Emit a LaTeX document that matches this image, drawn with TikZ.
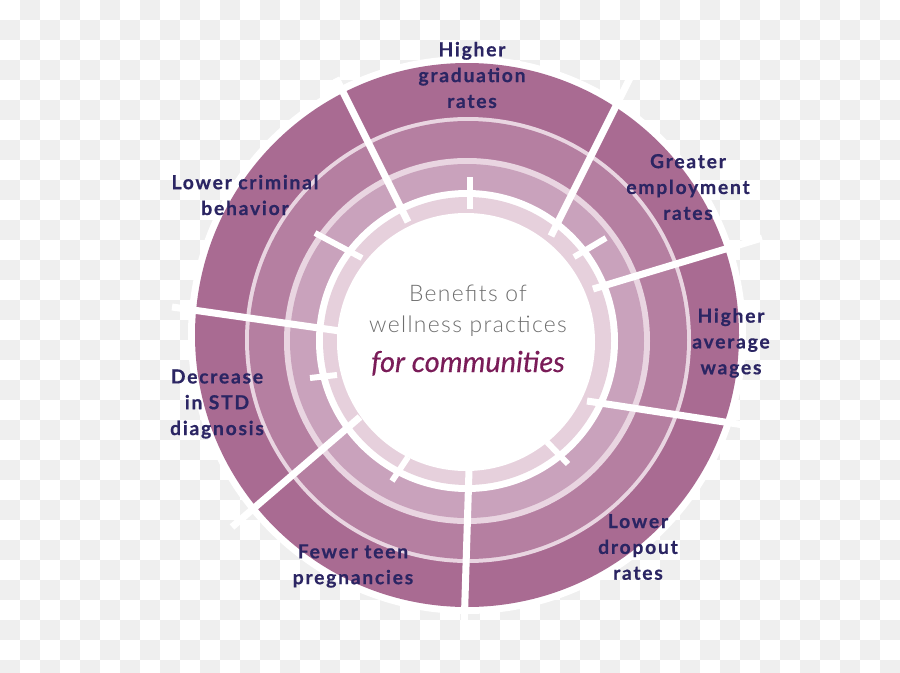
\documentclass[tikz,border=0pt]{standalone}
\usepackage{fontspec}
\setmainfont{Lato}
\newfontfamily\thinfont{Lato Light}
\definecolor{outerring}{HTML}{A96B92}
\definecolor{midring}{HTML}{B57FA1}
\definecolor{thirdring}{HTML}{C9A2BC}
\definecolor{innerring}{HTML}{E6D0DC}
\definecolor{ringline}{HTML}{E9D5E1}
\definecolor{labelblue}{HTML}{2B2563}
\definecolor{titlegray}{HTML}{6E6E6E}
\definecolor{titleplum}{HTML}{7A1C58}
\definecolor{checker}{HTML}{EFEFEF}
\begin{document}
\begin{tikzpicture}[x=0.02cm,y=-0.02cm,
  benefit/.style={font=\bfseries\fontsize{11}{14.7}\selectfont\addfontfeatures{LetterSpace=9,FakeBold=0.6},
    text=labelblue, align=center, inner sep=0pt},
  divider/.style={white, line width=4pt},
  notch/.style={white, line width=3.4pt}]
\useasboundingbox (0,0) rectangle (900,673);
\clip (0,0) rectangle (900,673);

% background
\foreach \y in {0,40,...,640}
  \foreach \x in {20,60,...,860}
    \fill [checker] (\x,\y) rectangle +(20,20);
\foreach \y in {20,60,...,660}
  \foreach \x in {0,40,...,880}
    \fill [checker] (\x,\y) rectangle +(20,20);

% rings
\fill [white] (467,335) circle (279);
\fill [outerring] (467,335) circle (272);
\fill [ringline] (468,340) circle (223);
\fill [midring] (468,340) circle (219);
\fill [ringline] (467,341) circle (183);
\fill [thirdring] (467,341) circle (177);
\fill [white] (467,341) circle (151);
\fill [innerring] (467,341) circle (144);
\fill [white] (466,342) circle (129);

% dividers between the benefits
\draw [divider] (336,78) -- (408,222);
\draw [divider] (630,78) -- (551,236);
\draw [divider] (762,238) -- (593,289);
\draw [divider] (744,425) -- (587,401);
\draw [divider] (464,630) -- (469,470);
\draw [divider] (232,527) -- (360,417);
\draw [divider] (172,307) -- (340,331);

% short notches
\draw [notch] (470,177) -- (470,209);
\draw [notch] (606,238) -- (574,257);
\draw [notch] (315,233) -- (362,258);
\draw [notch] (310,378) -- (337,375);
\draw [notch] (392,481) -- (408,457);
\draw [notch] (568,464) -- (547,442);

% labels
\node [benefit] (grad) at (472,75) {Higher\\graduation\\rates};
\node [benefit] (jobs) at (688,187) {Greater\\employment\\rates};
\node [benefit] (wage) at (731,343) {Higher\\average\\wages};
\node [benefit] (drop) at (638,547) {Lower\\dropout\\rates};
\node [benefit] (teen) at (353,566) {Fewer teen\\pregnancies};
\node [benefit] (std) at (217,404) {Decrease\\in STD\\diagnosis};
\node [benefit] (crime) at (245,195) {Lower criminal\\behavior};

% centre
\node [anchor=base, text=titlegray, font=\thinfont\fontsize{13}{17}\selectfont\addfontfeatures{LetterSpace=6}] (ttl1) at (468,301) {Benefits of};
\node [anchor=base, text=titlegray, font=\thinfont\fontsize{13}{17}\selectfont\addfontfeatures{LetterSpace=6}] (ttl2) at (468,332) {wellness practices};
\node [anchor=base, text=titleplum, font=\itshape\fontsize{16.5}{20}\selectfont\addfontfeatures{FakeBold=0.4}] (ttl3) at (468,372) {for communities};

\end{tikzpicture}
\end{document}
